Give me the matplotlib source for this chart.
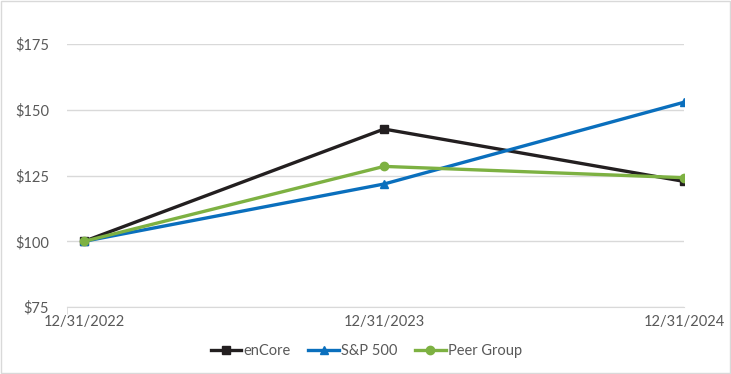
import matplotlib.pyplot as plt
import matplotlib.patches as mpatches

dates = ["12/31/2022", "12/31/2023", "12/31/2024"]
encore = [100, 142.7, 122.8]
sp500 = [100, 121.8, 152.9]
peer = [100, 128.5, 124.2]
yticks = [75, 100, 125, 150, 175]

plt.rcParams['font.family'] = ['Lato', 'DejaVu Sans']
txt = '#595959'
fs = 10.5

fig = plt.figure(figsize=(7.31, 3.74), dpi=100)
ax = fig.add_axes([0.0917, 0.179, 0.844, 0.703])

x = range(len(dates))
ax.plot(x, encore, color='#231f20', lw=2.4, marker='s', ms=5.5, label='enCore', zorder=3)
ax.plot(x, sp500, color='#0a6fbd', lw=2.4, marker='^', ms=6, label='S&P 500', zorder=3)
ax.plot(x, peer, color='#7db142', lw=2.4, marker='o', ms=6, label='Peer Group', zorder=4)

x0 = -0.057
ax.set_xlim(x0, 2)
ax.set_ylim(75, 175)
ax.set_yticks(yticks)
ax.set_yticklabels([f"${v}" for v in yticks])
ax.set_xticks(list(x))
ax.set_xticklabels(dates)
ax.set_xticks([x0, 1, 2], minor=True)
ax.grid(axis='y', color='#d9d9d9', lw=1)
ax.set_axisbelow(True)
for s in ['top', 'right', 'left']:
    ax.spines[s].set_visible(False)
ax.spines['bottom'].set_color('#d9d9d9')
ax.tick_params(axis='y', length=0, pad=13, labelsize=fs, labelcolor=txt)
ax.tick_params(axis='x', which='major', length=0, pad=6, labelsize=fs, labelcolor=txt)
ax.tick_params(axis='x', which='minor', length=5, color='#d9d9d9', direction='out')

fig.legend(*ax.get_legend_handles_labels(), loc='center', bbox_to_anchor=(0.501, 0.0615),
           ncol=3, frameon=False, fontsize=fs, labelcolor=txt, handlelength=2.1,
           handletextpad=0.15, columnspacing=1.2)

fig.patches.append(mpatches.Rectangle((0.001, 0.002), 0.997, 0.995, transform=fig.transFigure,
                                      fill=False, edgecolor='#d9d9d9', lw=1))

fig.savefig('out.png', dpi=100)
